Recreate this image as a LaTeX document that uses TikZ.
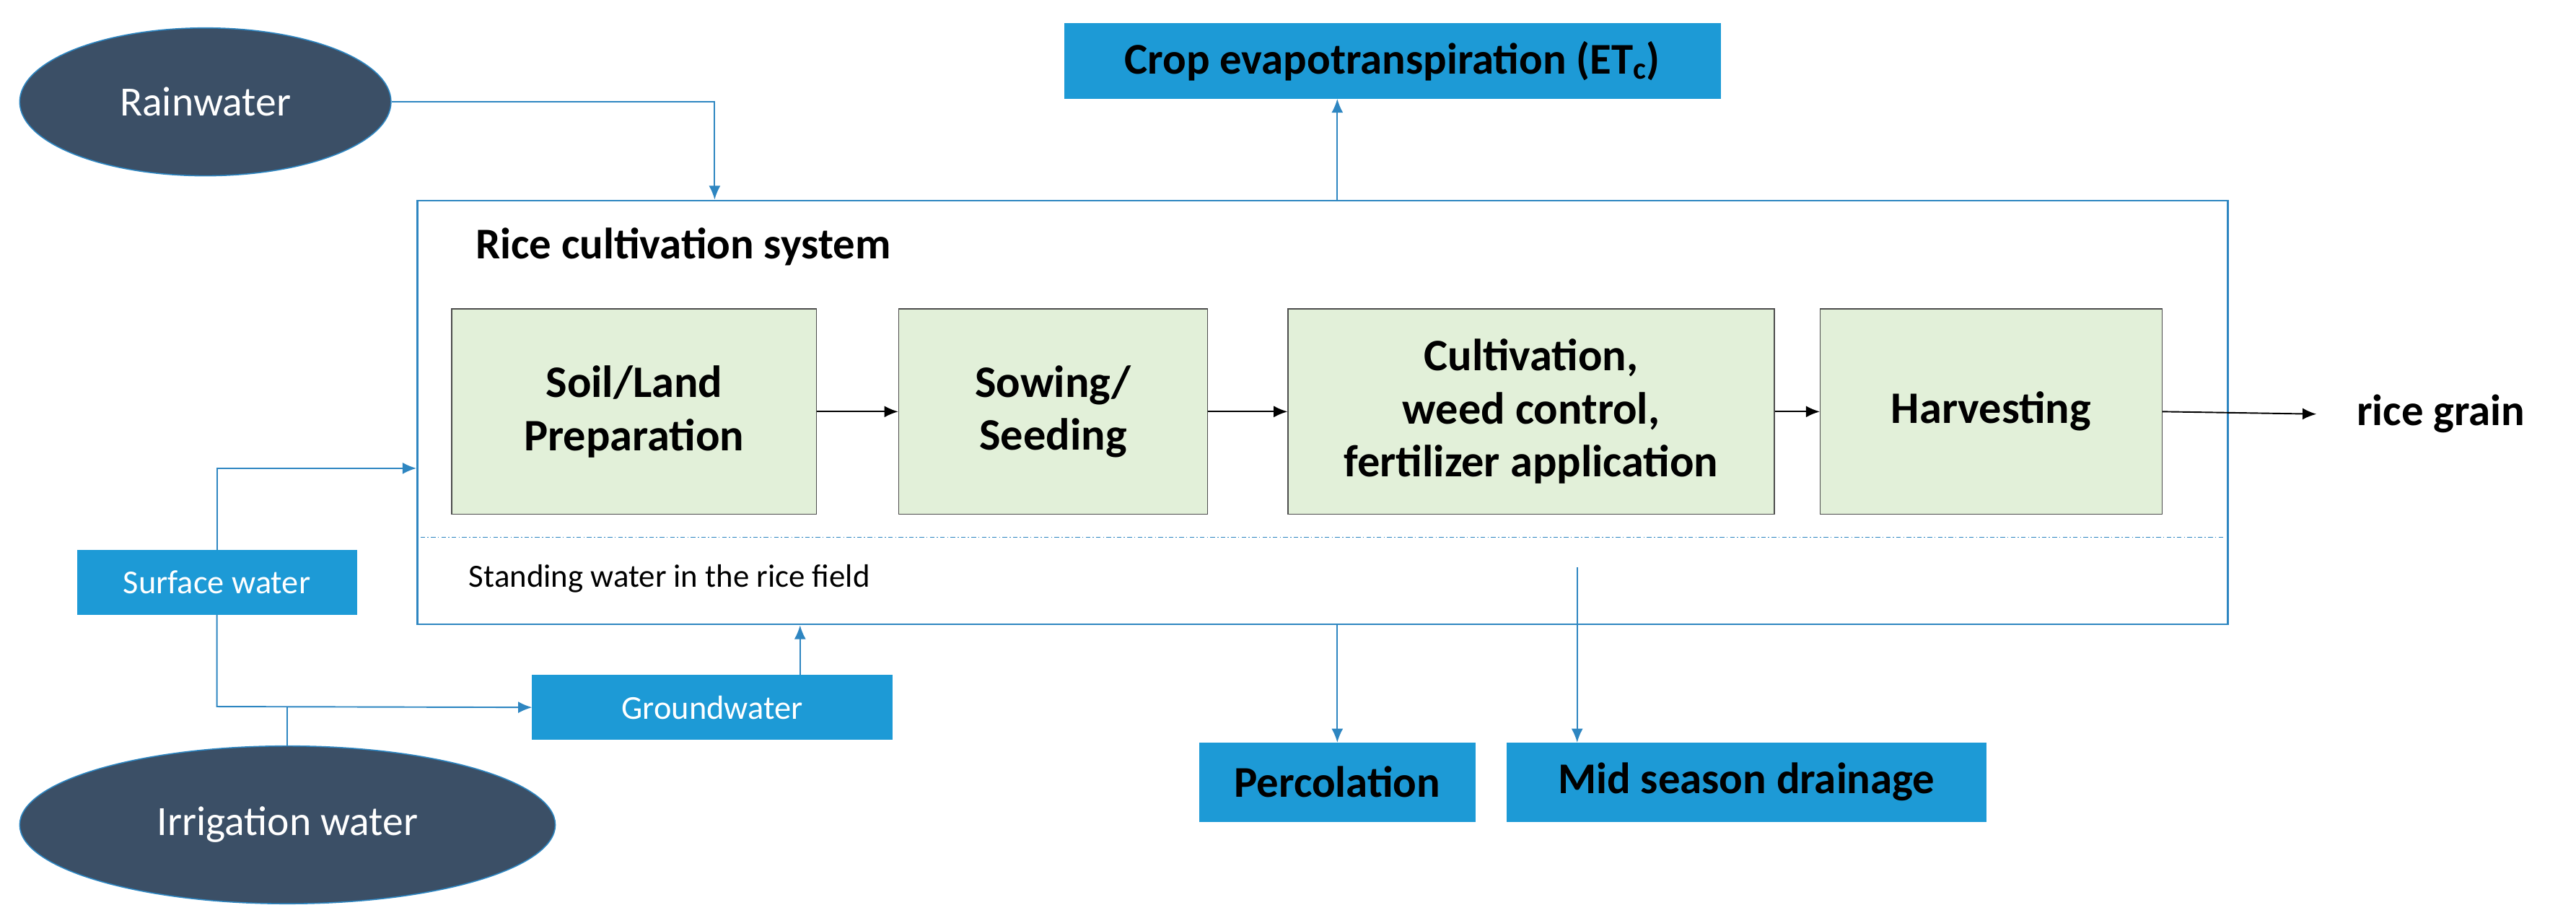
\documentclass[tikz,border=0pt]{standalone}
\usepackage{fontspec}
\setmainfont{Carlito}
\usetikzlibrary{arrows.meta,shapes.geometric}
\definecolor{bfill}{HTML}{1D9AD6}
\definecolor{bline}{HTML}{2E86C1}
\definecolor{dark}{HTML}{3B4F66}
\definecolor{gfill}{HTML}{E2F0D9}
\begin{document}
\begin{tikzpicture}[x=0.05cm,y=-0.05cm,
  sz/.style 2 args={minimum width=#1*0.05cm,minimum height=#2*0.05cm},
  ell/.style={ellipse,inner sep=0,fill=dark,draw=bline,line width=1pt,text=white,font=\fontsize{36}{42}\selectfont},
  bbox/.style={fill=bfill,draw=bfill,text=black,font=\fontsize{38}{44}\selectfont\bfseries,inner sep=0},
  sbox/.style={fill=bfill,draw=bfill,text=white,font=\fontsize{29}{34}\selectfont,inner sep=0},
  gbox/.style={fill=gfill,draw=black!70,line width=0.8pt,align=center,font=\fontsize{39}{46}\selectfont\bfseries,inner sep=0},
  bl/.style={draw=bline,line width=1.2pt},
  ba/.style={bl,-{Latex[length=12pt,width=10pt]}},
  ka/.style={draw=black,line width=1.2pt,-{Latex[length=12pt,width=10pt]}}]
\useasboundingbox (0,0) rectangle (1568,558.6);
\node[ell,sz={226}{90}] (rain) at (125,62) {Rainwater};
\node[ell,sz={326}{96}] (irr) at (175,502) {Irrigation water};
\node[bbox,sz={399}{46}] (et) at (847.5,37) {Crop evapotranspiration (ET\textsubscript{c})};
\node[draw=bline,line width=1.5pt,sz={1102}{258},inner sep=0] (main) at (805,251) {};
\node[anchor=west,font=\fontsize{38}{44}\selectfont\bfseries] (title) at (287,150) {Rice cultivation system};
\node[gbox,sz={222}{125}] (b1) at (386,250.5) {Soil/Land\\Preparation};
\node[gbox,sz={188}{125}] (b2) at (641,250.5) {Sowing/\\Seeding};
\node[gbox,sz={296}{125}] (b3) at (932,250.5) {Cultivation,\\weed control,\\fertilizer application};
\node[gbox,sz={208}{125}] (b4) at (1212,250.5) {Harvesting};
\coordinate (dl) at (256,327); \coordinate (dr) at (1354,327);
\draw[bl,dash pattern=on 4pt off 2pt on 1pt off 2pt,line width=1pt] (dl) -- (dr);
\node[anchor=west,font=\fontsize{28}{33}\selectfont] (sw) at (283,352) {Standing water in the rice field};
\node[sbox,sz={170}{39}] (surf) at (132,354.5) {Surface water};
\node[sbox,sz={219}{39}] (gw) at (433.5,430.5) {Groundwater};
\node[bbox,sz={168}{48}] (perc) at (814,476) {Percolation};
\node[bbox,sz={292}{48}] (mid) at (1063,476) {Mid season drainage};
\node[anchor=west,font=\fontsize{38}{44}\selectfont\bfseries] (grain) at (1432,252) {rice grain};
\coordinate (ge) at (1410,252);
\draw[ka] (b1.east) -- (b2.west);
\draw[ka] (b2.east) -- (b3.west);
\draw[ka] (b3.east) -- (b4.west);
\draw[ka] (b4.east) -- (ge);
\draw[ba] (rain.east) -- (435,62) -- (main.north -| 435,0);
\draw[ba] (main.north -| 814,0) -- (et.south -| 814,0);
\draw[ba] (surf.north) -- (132,285) -- (main.west |- 0,285);
\draw[ba] (surf.south) -- (132,430) -- (gw.west);
\draw[bl] (irr.north) -- (175,430);
\draw[ba] (gw.north -| 487,0) -- (main.south -| 487,0);
\draw[ba] (main.south -| 814,0) -- (perc.north);
\coordinate (ms) at (960,345);
\draw[ba] (ms) -- (mid.north -| 960,0);
\end{tikzpicture}
\end{document}
